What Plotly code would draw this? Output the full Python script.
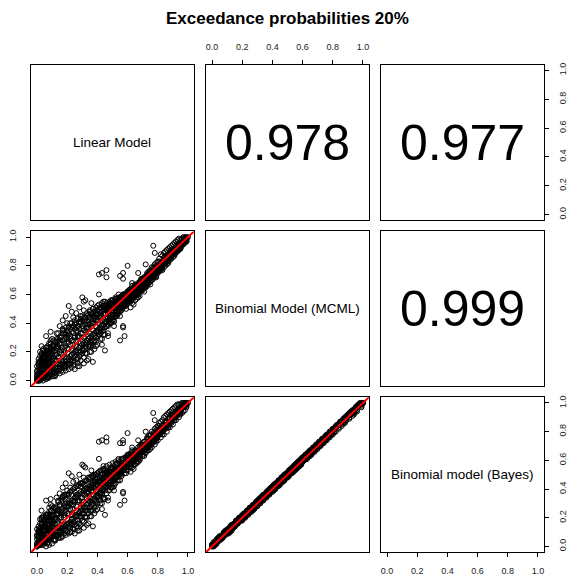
import plotly.graph_objects as go

title_text = "Exceedance probabilities 20%"
var_labels = ["Linear Model", "Binomial Model (MCML)", "Binomial model (Bayes)"]
corr_labels = {(0, 1): "0.978", (0, 2): "0.977", (1, 2): "0.999"}
tick_vals = [0.0, 0.2, 0.4, 0.6, 0.8, 1.0]
tick_text = ["0.0", "0.2", "0.4", "0.6", "0.8", "1.0"]

lin_prob = [
    0.00,0.01,0.01,0.02,0.02,0.03,0.03,0.04,0.04,0.05,0.00,0.01,0.02,0.03,0.04,0.05,0.02,0.03,0.01,0.04,0.05,0.03,0.02,0.04,
    0.06,0.06,0.07,0.07,0.08,0.08,0.09,0.09,0.10,0.10,0.06,0.07,0.08,0.09,0.10,0.06,0.08,0.10,0.09,0.07,
    0.11,0.11,0.12,0.12,0.13,0.13,0.14,0.14,0.15,0.15,0.16,0.16,0.17,0.17,0.18,0.18,0.19,0.19,0.20,0.20,0.12,0.14,0.16,0.18,0.20,0.13,0.15,0.17,0.19,0.11,
    0.21,0.21,0.22,0.22,0.23,0.23,0.24,0.24,0.25,0.25,0.26,0.26,0.27,0.27,0.28,0.28,0.29,0.29,0.30,0.30,0.22,0.24,0.26,0.28,0.30,0.21,0.23,0.25,0.27,0.29,0.30,0.32,0.31,
    0.31,0.32,0.32,0.33,0.33,0.34,0.34,0.35,0.35,0.36,0.36,0.37,0.37,0.38,0.38,0.39,0.39,0.40,0.40,0.33,0.35,0.37,0.39,0.31,0.34,0.36,0.38,0.40,
    0.41,0.41,0.41,0.42,0.42,0.43,0.43,0.44,0.44,0.45,0.45,0.46,0.46,0.46,0.47,0.47,0.48,0.48,0.49,0.49,0.50,0.50,0.43,0.45,0.47,0.42,0.44,0.48,0.45,0.47,0.43,
    0.51,0.51,0.51,0.52,0.52,0.53,0.53,0.54,0.54,0.55,0.55,0.55,0.56,0.56,0.57,0.57,0.57,0.57,0.58,0.58,0.59,0.59,0.60,0.60,0.60,0.52,0.54,0.56,0.58,0.53,0.55,0.59,
    0.61,0.61,0.62,0.62,0.63,0.63,0.64,0.64,0.65,0.65,0.66,0.66,0.67,0.67,0.68,0.68,0.69,0.69,0.70,0.70,0.62,0.64,0.66,0.68,0.70,0.63,0.65,0.67,
    0.71,0.71,0.72,0.72,0.73,0.73,0.74,0.74,0.75,0.75,0.76,0.76,0.77,0.77,0.78,0.78,0.79,0.79,0.80,0.80,0.72,0.74,0.76,0.78,0.80,0.77,0.78,0.73,
    0.81,0.81,0.82,0.82,0.83,0.83,0.84,0.84,0.85,0.85,0.86,0.86,0.87,0.87,0.88,0.88,0.89,0.89,0.90,0.90,0.82,0.84,0.86,0.88,
    0.91,0.91,0.92,0.92,0.93,0.93,0.94,0.94,0.95,0.95,0.96,0.96,0.97,0.97,0.98,0.98,0.99,0.99,1.00,0.93,0.95,0.97,
    0.00,0.00,0.01,0.01,0.02,0.02,0.03,0.03,0.04,0.04,0.05,0.05,0.06,0.06,0.07,0.07,0.08,0.08,0.09,0.09,
    0.10,0.10,0.11,0.11,0.12,0.12,0.13,0.13,0.14,0.14,0.15,0.15,0.16,0.16,0.17,0.17,0.18,0.18,0.19,0.19,
    0.20,0.20,0.21,0.21,0.22,0.22,0.23,0.23,0.24,0.24,0.25,0.25,0.26,0.26,0.27,0.27,0.28,0.28,0.29,0.29,
    0.30,0.30,0.31,0.31,0.32,0.32,0.33,0.33,0.34,0.34,0.35,0.35,0.36,0.36,0.37,0.37,0.38,0.38,0.39,0.39,
    0.40,0.40,0.41,0.41,0.42,0.42,0.43,0.43,0.44,0.44,0.45,0.45,0.46,0.46,0.47,0.47,0.48,0.48,0.49,0.49,
    0.50,0.50,0.51,0.51,0.52,0.52,0.53,0.53,0.54,0.54,0.55,0.55,0.56,0.56,0.57,0.57,0.58,0.58,0.59,0.59,
    0.60,0.60,0.61,0.61,0.62,0.62,0.63,0.63,0.64,0.64,0.65,0.65,0.66,0.66,0.67,0.67,0.68,0.68,0.69,0.69,
    0.70,0.70,0.71,0.71,0.72,0.72,0.73,0.73,0.74,0.74,0.75,0.75,0.76,0.76,0.77,0.77,0.78,0.78,0.79,0.79,
    0.80,0.80,0.81,0.81,0.82,0.82,0.83,0.83,0.84,0.84,0.85,0.85,0.86,0.86,0.87,0.87,0.88,0.88,0.89,0.89,
    0.90,0.90,0.91,0.91,0.92,0.92,0.93,0.93,0.94,0.94,0.95,0.95,0.96,0.96,0.97,0.97,0.98,0.98,0.99,0.99,
    0.01,0.03,0.05,0.07,0.09,0.11,0.13,0.15,0.17,0.19,0.21,0.23,0.25,0.27,0.29,0.31,0.33,0.35,0.37,0.39,
    0.41,0.43,0.45,0.47,0.49,0.51,0.53,0.55,0.57,0.59,0.61,0.63,0.65,0.67,0.69,0.71,0.73,0.75,0.77,0.79,
    0.81,0.83,0.85,0.87,0.89,0.91,0.93,0.95,0.97,0.99,
    0.00,0.01,0.02,0.02,0.03,0.04,0.05,0.06,0.07,0.08,0.09,0.10,0.03,0.05,0.07,0.08,0.00,0.01,0.04,0.06,
    0.00,0.00,0.01,0.01,0.02,0.02,0.03,0.03,0.04,0.04,0.05,0.05,0.06,0.06,0.07,0.07,0.08,0.08,0.09,0.09,
    0.10,0.10,0.11,0.11,0.12,0.12,0.13,0.13,0.14,0.14,0.15,0.15,0.16,0.16,0.17,0.17,0.18,0.18,0.19,0.19,
    0.20,0.20,0.21,0.21,0.22,0.22,0.23,0.23,0.24,0.24,0.25,0.25,0.26,0.26,0.27,0.27,0.28,0.28,0.29,0.29,
    0.30,0.30,0.31,0.31,0.32,0.32,0.33,0.33,0.34,0.34,0.35,0.35,0.36,0.36,0.37,0.37,0.38,0.38,0.39,0.39,
    0.40,0.40,0.41,0.41,0.42,0.42,0.43,0.43,0.44,0.44,0.45,0.45,0.46,0.46,0.47,0.47,0.48,0.48,0.49,0.49,
    0.50,0.50,0.51,0.51,0.52,0.52,0.53,0.53,0.54,0.54,0.55,0.55,0.56,0.56,0.57,0.57,0.58,0.58,0.59,0.59,
    0.60,0.60,0.61,0.61,0.62,0.62,0.63,0.63,0.64,0.64,0.65,0.65,0.66,0.66,0.67,0.67,0.68,0.68,0.69,0.69,
    0.70,0.70,0.71,0.71,0.72,0.72,0.73,0.73,0.74,0.74,0.75,0.75,0.76,0.76,0.77,0.77,0.78,0.78,0.79,0.79,
    0.80,0.80,0.81,0.81,0.82,0.82,0.83,0.83,0.84,0.84,0.85,0.85,0.86,0.86,0.87,0.87,0.88,0.88,0.89,0.89,
    0.90,0.90,0.91,0.91,0.92,0.92,0.93,0.93,0.94,0.94,0.95,0.95,0.96,0.96,0.97,0.97,0.98,0.98,0.99,0.99,
    0.00,0.00,0.01,0.01,0.02,0.02,0.03,0.03,0.04,0.04,0.05,0.05,0.06,0.06,0.07,0.07,0.08,0.08,0.09,0.09,
    0.10,0.10,0.11,0.11,0.12,0.12,0.13,0.13,0.14,0.14,0.15,0.15,0.16,0.16,0.17,0.17,0.18,0.18,0.19,0.19,
    0.20,0.20,0.21,0.21,0.22,0.22,0.23,0.23,0.24,0.24,0.25,0.25,0.26,0.26,0.27,0.27,0.28,0.28,0.29,0.29,
    0.30,0.30,0.31,0.31,0.32,0.32,0.33,0.33,0.34,0.34,0.35,0.35,0.36,0.36,0.37,0.37,0.38,0.38,0.39,0.39,
    0.40,0.40,0.41,0.41,0.42,0.42,0.43,0.43,0.44,0.44,0.45,0.45,
    0.46,0.46,0.47,0.47,0.48,0.48,0.49,0.49,0.50,0.50,
    0.51,0.51,0.52,0.52,0.53,0.53,0.54,0.54,0.55,0.55,0.56,0.56,0.57,0.57,0.58,0.58,0.59,0.59,0.60,0.60,
    0.61,0.61,0.62,0.62,0.63,0.63,0.64,0.64,0.65,0.65,0.66,0.66,0.67,0.67,0.68,0.68,0.69,0.69,0.70,0.70,
    0.71,0.71,0.72,0.72,0.73,0.73,0.74,0.74,0.75,0.75,0.76,0.76,0.77,0.77,0.78,0.78,0.79,0.79,0.80,0.80,
]

mcml_prob = [
    0.00,0.02,0.05,0.01,0.08,0.03,0.12,0.06,0.15,0.10,0.01,0.09,0.13,0.18,0.22,0.04,0.03,0.07,0.00,0.11,0.19,0.24,0.17,0.02,
    0.05,0.14,0.09,0.21,0.12,0.26,0.07,0.18,0.15,0.29,0.31,0.02,0.04,0.34,0.10,0.23,0.17,0.22,0.28,0.12,
    0.08,0.20,0.14,0.27,0.06,0.33,0.16,0.24,0.10,0.38,0.19,0.30,0.12,0.42,0.21,0.35,0.15,0.45,0.26,0.40,0.03,0.07,0.09,0.11,0.14,0.23,0.28,0.36,0.32,0.25,
    0.22,0.52,0.29,0.12,0.18,0.37,0.25,0.44,0.08,0.31,0.27,0.47,0.15,0.34,0.23,0.51,0.41,0.20,0.58,0.28,0.40,0.16,0.21,0.10,0.36,0.33,0.48,0.39,0.30,0.26,0.45,0.56,0.55,
    0.30,0.41,0.19,0.36,0.26,0.44,0.31,0.33,0.48,0.28,0.40,0.35,0.50,0.22,0.43,0.38,0.46,0.34,0.52,0.14,0.24,0.13,0.30,0.49,0.39,0.54,0.45,0.42,
    0.74,0.60,0.40,0.45,0.36,0.48,0.39,0.43,0.52,0.47,0.32,0.77,0.72,0.51,0.44,0.31,0.49,0.54,0.45,0.40,0.47,0.56,0.25,0.21,0.38,0.49,0.55,0.42,0.50,0.53,0.75,
    0.38,0.42,0.50,0.47,0.53,0.52,0.45,0.50,0.56,0.28,0.73,0.53,0.49,0.58,0.75,0.71,0.37,0.38,0.31,0.54,0.52,0.60,0.55,0.80,0.62,0.58,0.60,0.53,0.57,0.48,0.51,0.56,
    0.57,0.62,0.55,0.64,0.60,0.66,0.58,0.63,0.61,0.67,0.60,0.65,0.75,0.63,0.62,0.69,0.64,0.70,0.66,0.71,0.51,0.53,0.57,0.59,0.63,0.68,0.56,0.60,
    0.67,0.72,0.69,0.81,0.70,0.74,0.71,0.76,0.72,0.77,0.74,0.79,0.75,0.94,0.76,0.89,0.77,0.82,0.79,0.83,0.65,0.68,0.70,0.73,0.76,0.72,0.81,0.66,
    0.80,0.85,0.82,0.88,0.83,0.87,0.84,0.89,0.86,0.90,0.86,0.91,0.88,0.92,0.89,0.93,0.90,0.94,0.91,0.95,0.78,0.81,0.83,0.86,
    0.92,0.96,0.93,0.97,0.94,0.98,0.95,0.99,0.95,0.98,0.96,0.99,0.97,1.00,0.98,1.00,0.99,1.00,1.00,0.91,0.93,0.96,
    0.04,0.00,0.07,0.00,0.05,0.01,0.09,0.02,0.08,0.03,0.13,0.03,0.10,0.04,0.15,0.05,0.13,0.06,0.16,0.07,
    0.18,0.06,0.16,0.08,0.21,0.09,0.18,0.08,0.22,0.11,0.20,0.12,0.25,0.11,0.23,0.13,0.26,0.14,0.24,0.13,
    0.29,0.16,0.27,0.15,0.31,0.17,0.28,0.18,0.33,0.19,0.30,0.20,0.35,0.21,0.31,0.20,0.36,0.23,0.33,0.24,
    0.38,0.25,0.35,0.26,0.39,0.27,0.37,0.28,0.41,0.29,0.39,0.30,0.43,0.31,0.40,0.32,0.44,0.33,0.42,0.34,
    0.46,0.35,0.44,0.36,0.47,0.37,0.45,0.38,0.49,0.39,0.47,0.40,0.50,0.41,0.49,0.42,0.52,0.43,0.50,0.44,
    0.53,0.45,0.52,0.46,0.54,0.47,0.53,0.48,0.56,0.49,0.55,0.50,0.57,0.51,0.56,0.52,0.59,0.53,0.58,0.54,
    0.61,0.55,0.60,0.56,0.62,0.57,0.61,0.58,0.64,0.59,0.63,0.60,0.66,0.61,0.65,0.62,0.68,0.63,0.67,0.64,
    0.70,0.65,0.69,0.66,0.72,0.67,0.71,0.68,0.74,0.70,0.73,0.71,0.76,0.72,0.75,0.73,0.78,0.74,0.77,0.75,
    0.80,0.76,0.79,0.78,0.82,0.79,0.81,0.80,0.84,0.81,0.83,0.82,0.86,0.83,0.85,0.84,0.88,0.85,0.87,0.87,
    0.90,0.88,0.90,0.89,0.92,0.90,0.92,0.91,0.94,0.92,0.95,0.93,0.96,0.95,0.97,0.96,0.98,0.97,0.99,0.98,
    0.12,0.14,0.20,0.02,0.21,0.03,0.29,0.05,0.33,0.07,0.37,0.09,0.40,0.12,0.43,0.16,0.45,0.20,0.47,0.24,
    0.50,0.29,0.52,0.33,0.56,0.41,0.57,0.45,0.60,0.50,0.63,0.54,0.66,0.58,0.71,0.62,0.75,0.67,0.79,0.72,
    0.83,0.77,0.87,0.82,0.91,0.87,0.95,0.92,0.99,0.97,
    0.02,0.03,0.10,0.20,0.15,0.17,0.07,0.19,0.24,0.09,0.12,0.24,0.05,0.15,0.11,0.20,0.06,0.11,0.13,0.08,
    0.10,0.01,0.13,0.02,0.08,0.00,0.11,0.01,0.16,0.00,0.12,0.02,0.18,0.01,0.20,0.03,0.16,0.02,0.22,0.04,
    0.20,0.03,0.24,0.05,0.25,0.06,0.27,0.05,0.29,0.07,0.26,0.08,0.31,0.07,0.28,0.09,0.33,0.10,0.30,0.09,
    0.34,0.11,0.32,0.12,0.36,0.11,0.34,0.13,0.38,0.14,0.36,0.13,0.40,0.15,0.38,0.16,0.41,0.17,0.40,0.18,
    0.42,0.19,0.41,0.21,0.44,0.22,0.42,0.23,0.46,0.24,0.44,0.25,0.47,0.26,0.45,0.27,0.48,0.28,0.47,0.30,
    0.49,0.31,0.48,0.32,0.51,0.33,0.50,0.34,0.52,0.35,0.51,0.37,0.54,0.38,0.53,0.39,0.55,0.40,0.54,0.41,
    0.56,0.42,0.55,0.44,0.57,0.45,0.56,0.46,0.58,0.47,0.57,0.48,0.59,0.50,0.58,0.51,0.60,0.52,0.59,0.53,
    0.62,0.54,0.59,0.55,0.60,0.56,0.63,0.57,0.62,0.58,0.65,0.59,0.64,0.60,0.66,0.61,0.65,0.62,0.68,0.63,
    0.67,0.64,0.70,0.65,0.69,0.66,0.72,0.67,0.71,0.68,0.74,0.69,0.73,0.70,0.76,0.71,0.75,0.72,0.78,0.73,
    0.78,0.75,0.80,0.76,0.80,0.77,0.82,0.78,0.82,0.79,0.84,0.80,0.85,0.81,0.86,0.83,0.87,0.84,0.88,0.85,
    0.89,0.86,0.91,0.88,0.91,0.89,0.93,0.90,0.93,0.91,0.94,0.92,0.96,0.94,0.96,0.95,0.98,0.96,0.99,0.97,
    0.07,0.03,0.05,0.15,0.13,0.03,0.19,0.07,0.10,0.21,0.17,0.05,0.13,0.23,0.08,0.18,0.23,0.14,0.10,0.26,
    0.14,0.08,0.28,0.12,0.18,0.04,0.12,0.24,0.17,0.33,0.09,0.30,0.21,0.14,0.35,0.06,0.19,0.29,0.37,0.10,
    0.22,0.31,0.08,0.38,0.25,0.14,0.40,0.21,0.28,0.11,0.42,0.17,0.24,0.37,0.43,0.10,0.31,0.20,0.45,0.14,
    0.33,0.22,0.44,0.12,0.35,0.24,0.47,0.19,0.37,0.15,0.49,0.27,0.38,0.20,0.50,0.24,0.40,0.31,0.51,0.27,
    0.42,0.25,0.53,0.34,0.44,0.29,0.54,0.36,0.46,0.32,0.55,0.41,
    0.43,0.49,0.44,0.51,0.45,0.50,0.46,0.53,0.47,0.52,
    0.48,0.55,0.49,0.54,0.50,0.57,0.51,0.56,0.52,0.58,0.53,0.57,0.54,0.60,0.55,0.59,0.56,0.61,0.57,0.60,
    0.58,0.63,0.59,0.61,0.60,0.64,0.61,0.63,0.62,0.66,0.63,0.65,0.64,0.68,0.65,0.67,0.66,0.70,0.67,0.69,
    0.68,0.72,0.69,0.71,0.70,0.74,0.71,0.73,0.72,0.76,0.73,0.75,0.74,0.78,0.75,0.77,0.76,0.80,0.77,0.79,
]

bayes_prob = [
    0.00,0.02,0.04,0.01,0.09,0.03,0.13,0.06,0.14,0.11,0.01,0.08,0.13,0.19,0.21,0.05,0.03,0.07,0.01,0.12,0.18,0.25,0.16,0.02,
    0.06,0.13,0.09,0.22,0.11,0.27,0.08,0.18,0.16,0.28,0.32,0.02,0.05,0.33,0.11,0.22,0.18,0.21,0.29,0.13,
    0.09,0.19,0.15,0.26,0.07,0.34,0.16,0.25,0.11,0.37,0.20,0.31,0.13,0.41,0.22,0.36,0.14,0.44,0.27,0.39,0.04,0.08,0.10,0.12,0.15,0.22,0.29,0.35,0.33,0.24,
    0.23,0.51,0.30,0.13,0.19,0.36,0.26,0.45,0.09,0.32,0.28,0.46,0.16,0.35,0.24,0.50,0.42,0.21,0.57,0.29,0.41,0.17,0.22,0.11,0.37,0.32,0.49,0.38,0.31,0.27,0.44,0.55,0.56,
    0.31,0.40,0.20,0.37,0.27,0.45,0.32,0.34,0.47,0.29,0.41,0.36,0.49,0.23,0.44,0.39,0.47,0.35,0.51,0.15,0.25,0.14,0.31,0.48,0.40,0.53,0.46,0.43,
    0.73,0.61,0.41,0.46,0.37,0.47,0.40,0.44,0.53,0.48,0.33,0.76,0.73,0.52,0.45,0.32,0.50,0.53,0.46,0.41,0.48,0.55,0.26,0.22,0.39,0.50,0.56,0.43,0.51,0.52,0.74,
    0.39,0.43,0.51,0.48,0.52,0.53,0.46,0.51,0.55,0.29,0.72,0.54,0.50,0.57,0.74,0.72,0.38,0.37,0.32,0.55,0.53,0.61,0.56,0.79,0.63,0.57,0.61,0.54,0.58,0.49,0.52,0.57,
    0.58,0.63,0.56,0.65,0.61,0.67,0.59,0.64,0.62,0.66,0.61,0.66,0.74,0.64,0.63,0.70,0.65,0.71,0.67,0.72,0.52,0.54,0.58,0.60,0.64,0.69,0.57,0.61,
    0.68,0.73,0.70,0.80,0.71,0.75,0.72,0.77,0.73,0.78,0.75,0.80,0.76,0.93,0.77,0.88,0.78,0.83,0.80,0.84,0.66,0.69,0.71,0.74,0.77,0.73,0.82,0.67,
    0.81,0.86,0.83,0.87,0.84,0.88,0.85,0.90,0.87,0.91,0.87,0.92,0.89,0.93,0.90,0.94,0.91,0.95,0.92,0.96,0.79,0.82,0.84,0.87,
    0.93,0.97,0.94,0.98,0.95,0.99,0.96,0.99,0.96,0.99,0.97,1.00,0.98,1.00,0.99,1.00,0.99,1.00,1.00,0.92,0.94,0.97,
    0.05,0.00,0.07,0.01,0.06,0.01,0.09,0.03,0.08,0.03,0.12,0.04,0.11,0.04,0.15,0.06,0.14,0.06,0.17,0.07,
    0.18,0.07,0.17,0.08,0.20,0.10,0.19,0.08,0.23,0.11,0.20,0.13,0.24,0.11,0.24,0.13,0.27,0.15,0.24,0.14,
    0.28,0.16,0.28,0.16,0.30,0.17,0.29,0.19,0.32,0.19,0.31,0.21,0.34,0.21,0.32,0.21,0.37,0.23,0.34,0.25,
    0.37,0.25,0.36,0.27,0.40,0.27,0.38,0.29,0.40,0.30,0.40,0.31,0.42,0.31,0.41,0.33,0.45,0.33,0.43,0.35,
    0.45,0.36,0.45,0.37,0.48,0.38,0.46,0.39,0.48,0.40,0.48,0.41,0.51,0.42,0.50,0.43,0.51,0.44,0.51,0.45,
    0.54,0.46,0.53,0.47,0.55,0.48,0.54,0.49,0.55,0.50,0.56,0.51,0.58,0.52,0.57,0.53,0.58,0.54,0.59,0.55,
    0.60,0.56,0.61,0.57,0.63,0.58,0.62,0.59,0.63,0.60,0.64,0.61,0.65,0.62,0.66,0.63,0.67,0.64,0.68,0.65,
    0.71,0.66,0.70,0.67,0.71,0.68,0.72,0.69,0.75,0.71,0.74,0.72,0.75,0.73,0.76,0.74,0.79,0.75,0.78,0.76,
    0.81,0.77,0.80,0.79,0.83,0.80,0.82,0.81,0.85,0.82,0.84,0.83,0.87,0.84,0.86,0.85,0.89,0.86,0.88,0.88,
    0.91,0.89,0.91,0.90,0.93,0.91,0.93,0.92,0.95,0.93,0.96,0.94,0.97,0.96,0.98,0.97,0.99,0.98,1.00,0.99,
    0.11,0.15,0.19,0.03,0.22,0.04,0.28,0.06,0.32,0.08,0.36,0.10,0.41,0.13,0.44,0.17,0.44,0.21,0.48,0.25,
    0.49,0.30,0.53,0.34,0.55,0.42,0.58,0.46,0.61,0.51,0.62,0.55,0.67,0.59,0.70,0.63,0.76,0.68,0.78,0.73,
    0.84,0.78,0.86,0.83,0.92,0.88,0.94,0.93,0.98,0.98,
    0.02,0.04,0.11,0.19,0.16,0.16,0.08,0.20,0.23,0.10,0.13,0.25,0.05,0.14,0.12,0.21,0.07,0.10,0.14,0.09,
    0.12,0.00,0.11,0.01,0.10,0.01,0.09,0.03,0.18,0.01,0.10,0.03,0.20,0.00,0.18,0.05,0.18,0.01,0.20,0.06,
    0.22,0.02,0.22,0.07,0.27,0.05,0.25,0.07,0.31,0.06,0.24,0.10,0.33,0.06,0.26,0.11,0.35,0.09,0.28,0.11,
    0.36,0.10,0.30,0.14,0.38,0.10,0.32,0.15,0.40,0.13,0.34,0.15,0.42,0.14,0.36,0.18,0.43,0.16,0.38,0.20,
    0.44,0.18,0.39,0.23,0.46,0.21,0.40,0.25,0.48,0.23,0.42,0.27,0.49,0.25,0.43,0.29,0.50,0.27,0.45,0.32,
    0.51,0.30,0.46,0.34,0.53,0.32,0.48,0.36,0.54,0.34,0.49,0.39,0.56,0.37,0.51,0.41,0.57,0.39,0.52,0.43,
    0.58,0.41,0.53,0.46,0.59,0.44,0.54,0.48,0.60,0.46,0.55,0.50,0.61,0.49,0.56,0.53,0.62,0.51,0.57,0.55,
    0.64,0.53,0.57,0.57,0.62,0.55,0.61,0.59,0.64,0.57,0.63,0.61,0.66,0.59,0.64,0.63,0.67,0.61,0.66,0.65,
    0.69,0.63,0.68,0.67,0.71,0.65,0.70,0.69,0.73,0.67,0.72,0.71,0.75,0.69,0.74,0.73,0.77,0.71,0.76,0.75,
    0.80,0.74,0.78,0.78,0.82,0.76,0.80,0.80,0.84,0.78,0.82,0.82,0.87,0.80,0.84,0.85,0.89,0.83,0.86,0.87,
    0.91,0.85,0.89,0.90,0.93,0.88,0.91,0.92,0.95,0.90,0.92,0.94,0.98,0.93,0.94,0.97,1.00,0.95,0.97,0.99,
    0.08,0.02,0.06,0.14,0.12,0.04,0.20,0.06,0.11,0.20,0.16,0.06,0.14,0.22,0.09,0.19,0.22,0.15,0.11,0.25,
    0.15,0.09,0.27,0.13,0.19,0.05,0.13,0.23,0.18,0.32,0.10,0.29,0.22,0.15,0.34,0.07,0.20,0.28,0.36,0.11,
    0.23,0.30,0.09,0.37,0.26,0.15,0.39,0.22,0.29,0.12,0.41,0.18,0.25,0.36,0.42,0.11,0.32,0.21,0.44,0.15,
    0.34,0.23,0.43,0.13,0.36,0.25,0.46,0.20,0.38,0.16,0.48,0.28,0.39,0.21,0.49,0.25,0.41,0.32,0.50,0.28,
    0.43,0.26,0.52,0.35,0.45,0.30,0.53,0.37,0.47,0.33,0.54,0.42,
    0.44,0.48,0.43,0.52,0.46,0.49,0.45,0.54,0.48,0.51,
    0.47,0.56,0.50,0.53,0.49,0.58,0.52,0.55,0.51,0.59,0.54,0.56,0.53,0.61,0.56,0.58,0.55,0.62,0.58,0.59,
    0.57,0.64,0.60,0.60,0.59,0.65,0.62,0.62,0.61,0.67,0.64,0.64,0.63,0.69,0.66,0.66,0.65,0.71,0.68,0.68,
    0.67,0.73,0.70,0.70,0.69,0.75,0.72,0.72,0.71,0.77,0.74,0.74,0.73,0.79,0.76,0.76,0.75,0.81,0.78,0.78,
]

if not (len(lin_prob) == len(mcml_prob) == len(bayes_prob)):
    raise ValueError("length mismatch %d %d %d" % (len(lin_prob), len(mcml_prob), len(bayes_prob)))

W, H = 568, 576
FONT = "Liberation Sans, Arial, sans-serif"
col_px = [(31, 194), (206, 369), (381, 544)]
row_px = [(63, 220), (231, 387), (398, 554)]

series = [lin_prob, mcml_prob, bayes_prob]
lo = min(min(s) for s in series)
hi = max(max(s) for s in series)
pad = 0.04 * (hi - lo)
rng = [lo - pad, hi + pad]

fig = go.Figure()
layout_axes = {}
annotations = []

for r in range(3):
    for c in range(3):
        k = r * 3 + c + 1
        sfx = "" if k == 1 else str(k)
        xref, yref = "x" + sfx, "y" + sfx
        xd = [col_px[c][0] / W, col_px[c][1] / W]
        yd = [1 - row_px[r][1] / H, 1 - row_px[r][0] / H]
        show_top = (r == 0 and c % 2 == 1)
        show_bottom = (r == 2 and c % 2 == 0)
        show_left = (c == 0 and r % 2 == 1)
        show_right = (c == 2 and r % 2 == 0)
        common = dict(
            range=rng, showgrid=False, zeroline=False, showline=True, mirror=True,
            linecolor="black", linewidth=1, tickvals=tick_vals, ticktext=tick_text,
            tickfont=dict(family=FONT, size=9, color="#222222"),
            tickcolor="black", ticklen=4, tickwidth=1, fixedrange=True,
        )
        xshow = show_top or show_bottom
        yshow = show_left or show_right
        layout_axes["xaxis" + sfx] = dict(
            common, domain=xd, anchor=yref,
            side="top" if show_top else "bottom",
            ticks="outside" if xshow else "", showticklabels=xshow,
            ticklabelstandoff=6,
        )
        layout_axes["yaxis" + sfx] = dict(
            common, domain=yd, anchor=xref,
            side="right" if show_right else "left",
            ticks="outside" if yshow else "", showticklabels=yshow,
            tickangle=-90, ticklabelstandoff=6,
        )
        if r > c:
            fig.add_trace(go.Scatter(
                x=series[c], y=series[r], mode="markers", xaxis=xref, yaxis=yref,
                marker=dict(symbol="circle-open", size=5, color="black",
                            line=dict(width=1, color="black")),
                showlegend=False, hoverinfo="skip",
            ))
            fig.add_trace(go.Scatter(
                x=rng, y=rng, mode="lines", xaxis=xref, yaxis=yref,
                line=dict(color="#FF0000", width=2), showlegend=False, hoverinfo="skip",
            ))
        else:
            fig.add_trace(go.Scatter(x=[], y=[], xaxis=xref, yaxis=yref,
                                     showlegend=False, hoverinfo="skip"))
            cx = (xd[0] + xd[1]) / 2
            cy = (yd[0] + yd[1]) / 2
            if r == c:
                txt, size = var_labels[r], 13.5
            else:
                txt, size = corr_labels[(r, c)], 50
            annotations.append(dict(
                text=txt, x=cx, y=cy, xref="paper", yref="paper",
                xanchor="center", yanchor="middle", showarrow=False,
                font=dict(family=FONT, size=size, color="black"),
            ))

annotations.append(dict(
    text="<b>" + title_text + "</b>", x=287.5 / W, y=1 - 17 / H,
    xref="paper", yref="paper", xanchor="center", yanchor="middle",
    showarrow=False, font=dict(family=FONT, size=17, color="black"),
))

fig.update_layout(
    width=W, height=H, margin=dict(l=0, r=0, t=0, b=0),
    paper_bgcolor="white", plot_bgcolor="white",
    annotations=annotations, **layout_axes,
)

fig.write_html("out.html")
